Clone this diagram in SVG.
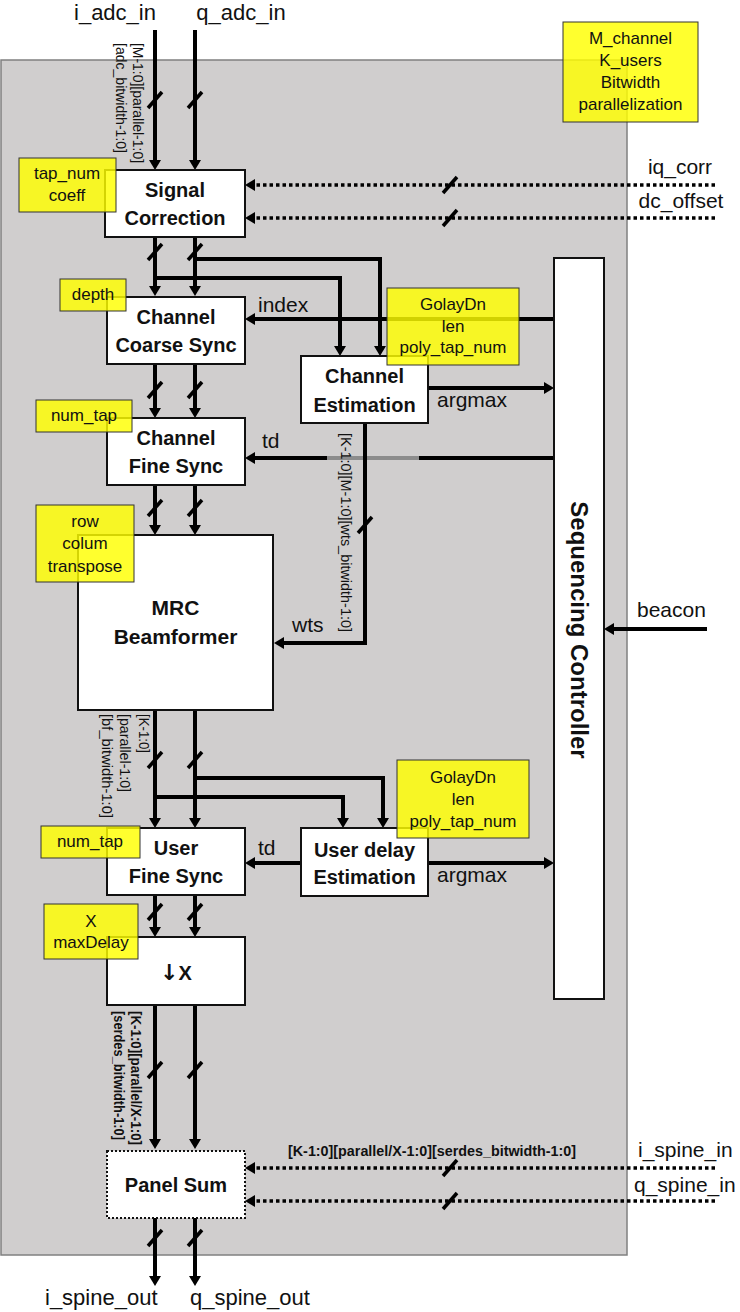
<svg xmlns="http://www.w3.org/2000/svg" xmlns:xlink="http://www.w3.org/1999/xlink" width="740" height="1312" viewBox="0 0 740 1312">
<style>
.lbl{font-family:"Liberation Sans",Arial,sans-serif;font-size:21px;fill:#111}
.big{font-size:22px}
.nt{font-family:"Liberation Sans",Arial,sans-serif;font-size:20px;font-weight:bold;fill:#111;text-anchor:middle}
.nt21{font-size:21px}
.sc{font-size:24px}
.yt{font-family:"Liberation Sans",Arial,sans-serif;font-size:17px;fill:#111;text-anchor:middle}
.vt{font-family:"Liberation Sans",Arial,sans-serif;font-size:14px;fill:#111}
.vb{font-family:"Liberation Sans",Arial,sans-serif;font-size:14px;font-weight:bold;fill:#111}
.box{fill:#fff;stroke:#111;stroke-width:2}
.note{fill:#ffff00;fill-opacity:0.82;stroke:#333;stroke-width:1}
.w{fill:none;stroke:#000;stroke-width:4}
.d{fill:none;stroke:#000;stroke-width:3.5;stroke-dasharray:3.5 3}
.sl{stroke:#000;stroke-width:3.5}
.arr{font-family:"DejaVu Sans",sans-serif;font-size:22px}
</style>
<defs>
<marker id="ah" viewBox="0 0 10 12" refX="1" refY="6" markerWidth="10" markerHeight="12" markerUnits="userSpaceOnUse" orient="auto">
<path d="M0,0 L10,6 L0,12 z" fill="#000"/>
</marker>
<path id="sl" class="sl" d="M-7,8 L7,-8"/>
</defs>
<rect x="1" y="60" width="626" height="1195" fill="#d0cece" stroke="#808080" stroke-width="1.5"/>

<g id="connectors">
<path class="w" d="M155,30 V161" marker-end="url(#ah)"/>
<path class="w" d="M195,30 V161" marker-end="url(#ah)"/>
<path class="d" d="M715,185 H254" marker-end="url(#ah)"/>
<path class="d" d="M715,218 H254" marker-end="url(#ah)"/>
<path class="w" d="M155,237 V287" marker-end="url(#ah)"/>
<path class="w" d="M195,237 V287" marker-end="url(#ah)"/>
<path class="w" d="M195,259 H380 V347" marker-end="url(#ah)"/>
<path class="w" d="M155,278 H340 V347" marker-end="url(#ah)"/>
<path class="w" d="M555,319 H254" marker-end="url(#ah)"/>
<path class="w" d="M155,364 V409" marker-end="url(#ah)"/>
<path class="w" d="M195,364 V409" marker-end="url(#ah)"/>
<path class="w" d="M428,388 H545" marker-end="url(#ah)"/>
<path class="w" d="M555,458 H419"/>
<path fill="none" stroke="#8c8c8c" stroke-width="4" d="M419,458 H327"/>
<path class="w" d="M327,458 H254" marker-end="url(#ah)"/>
<path class="w" d="M365,423 V643 H283" marker-end="url(#ah)"/>
<path class="w" d="M155,485 V526" marker-end="url(#ah)"/>
<path class="w" d="M195,485 V526" marker-end="url(#ah)"/>
<path class="w" d="M155,710 V819" marker-end="url(#ah)"/>
<path class="w" d="M195,710 V819" marker-end="url(#ah)"/>
<path class="w" d="M195,778 H383 V819" marker-end="url(#ah)"/>
<path class="w" d="M155,797 H343 V819" marker-end="url(#ah)"/>
<path class="w" d="M301,863 H254" marker-end="url(#ah)"/>
<path class="w" d="M428,863 H545" marker-end="url(#ah)"/>
<path class="w" d="M155,895 V928" marker-end="url(#ah)"/>
<path class="w" d="M195,895 V928" marker-end="url(#ah)"/>
<path class="w" d="M155,1005 V1140" marker-end="url(#ah)"/>
<path class="w" d="M195,1005 V1140" marker-end="url(#ah)"/>
<path class="d" d="M715,1168 H254" marker-end="url(#ah)"/>
<path class="d" d="M715,1201 H254" marker-end="url(#ah)"/>
<path class="w" d="M155,1218 V1277" marker-end="url(#ah)"/>
<path class="w" d="M195,1218 V1277" marker-end="url(#ah)"/>
<path class="w" d="M707,629 H613" marker-end="url(#ah)"/>
<use href="#sl" x="155" y="100"/><use href="#sl" x="195" y="100"/>
<use href="#sl" x="450" y="185"/><use href="#sl" x="450" y="218"/>
<use href="#sl" x="155" y="252"/><use href="#sl" x="195" y="252"/>
<use href="#sl" x="155" y="390"/><use href="#sl" x="195" y="390"/>
<use href="#sl" x="365" y="525"/>
<use href="#sl" x="155" y="508"/><use href="#sl" x="195" y="508"/>
<use href="#sl" x="155" y="760"/><use href="#sl" x="195" y="760"/>
<use href="#sl" x="155" y="912"/><use href="#sl" x="195" y="912"/>
<use href="#sl" x="155" y="1070"/><use href="#sl" x="195" y="1070"/>
<use href="#sl" x="450" y="1168"/><use href="#sl" x="450" y="1201"/>
<use href="#sl" x="155" y="1238"/><use href="#sl" x="195" y="1238"/>
</g>

<g id="labels">
<text class="lbl big" x="115" y="20" text-anchor="middle">i_adc_in</text>
<text class="lbl big" x="241" y="20" text-anchor="middle">q_adc_in</text>
<text class="lbl" x="680" y="174" text-anchor="middle">iq_corr</text>
<text class="lbl" x="681" y="208" text-anchor="middle">dc_offset</text>
<text class="lbl" x="258" y="312">index</text>
<text class="lbl" x="437" y="407">argmax</text>
<text class="lbl" x="262" y="448">td</text>
<text class="lbl" x="292" y="632">wts</text>
<text class="lbl" x="637" y="617">beacon</text>
<text class="lbl" x="258" y="855">td</text>
<text class="lbl" x="437" y="882">argmax</text>
<text class="lbl" x="638" y="1157">i_spine_in</text>
<text class="lbl" x="634" y="1192">q_spine_in</text>
<text class="lbl big" x="45" y="1305">i_spine_out</text>
<text class="lbl big" x="190" y="1305">q_spine_out</text>
<text class="vt" transform="translate(133,43) rotate(90)" textLength="120" lengthAdjust="spacingAndGlyphs">[M-1:0][parallel-1:0]</text>
<text class="vt" transform="translate(116,43) rotate(90)" textLength="110" lengthAdjust="spacingAndGlyphs">[adc_bitwidth-1:0]</text>
<text class="vt" transform="translate(341,433) rotate(90)" textLength="199" lengthAdjust="spacingAndGlyphs">[K-1:0][M-1:0][wts_bitwidth-1:0]</text>
<text class="vt" transform="translate(139,714) rotate(90)" textLength="39" lengthAdjust="spacingAndGlyphs">[K-1:0]</text>
<text class="vt" transform="translate(120,714) rotate(90)" textLength="78" lengthAdjust="spacingAndGlyphs">[parallel-1:0]</text>
<text class="vt" transform="translate(102,714) rotate(90)" textLength="104" lengthAdjust="spacingAndGlyphs">[bf_bitwidth-1:0]</text>
<text class="vb" transform="translate(131,1011) rotate(90)" textLength="134" lengthAdjust="spacingAndGlyphs">[K-1:0][parallel/X-1:0]</text>
<text class="vb" transform="translate(114,1011) rotate(90)" textLength="129" lengthAdjust="spacingAndGlyphs">[serdes_bitwidth-1:0]</text>
<text class="vb" x="288" y="1156" textLength="288" lengthAdjust="spacingAndGlyphs">[K-1:0][parallel/X-1:0][serdes_bitwidth-1:0]</text>
</g>

<g id="signal-correction">
<rect class="box" x="105" y="170" width="140" height="67"/>
<text class="nt" x="175" y="197">Signal</text>
<text class="nt" x="175" y="225">Correction</text>
</g>
<g id="channel-coarse-sync">
<rect class="box" x="107" y="297" width="138" height="67"/>
<text class="nt" x="176" y="324">Channel</text>
<text class="nt" x="176" y="352">Coarse Sync</text>
</g>
<g id="channel-estimation">
<rect class="box" x="301" y="356" width="127" height="67"/>
<text class="nt" x="364.5" y="383">Channel</text>
<text class="nt" x="364.5" y="412">Estimation</text>
</g>
<g id="channel-fine-sync">
<rect class="box" x="107" y="418" width="138" height="67"/>
<text class="nt" x="176" y="445">Channel</text>
<text class="nt" x="176" y="473">Fine Sync</text>
</g>
<g id="mrc-beamformer">
<rect class="box" x="78" y="535" width="195" height="175"/>
<text class="nt nt21" x="175.5" y="615">MRC</text>
<text class="nt nt21" x="175.5" y="644">Beamformer</text>
</g>
<g id="user-fine-sync">
<rect class="box" x="107" y="828" width="138" height="67"/>
<text class="nt" x="176" y="855">User</text>
<text class="nt" x="176" y="883">Fine Sync</text>
</g>
<g id="user-delay-estimation">
<rect class="box" x="301" y="828" width="127" height="68"/>
<text class="nt" x="364.5" y="857">User delay</text>
<text class="nt" x="364.5" y="884">Estimation</text>
</g>
<g id="downsample">
<rect class="box" x="107" y="937" width="138" height="68"/>
<text class="nt" x="176" y="980"><tspan class="arr">↓</tspan>X</text>
</g>
<g id="panel-sum">
<rect x="107" y="1151" width="138" height="67" fill="#fff" stroke="#111" stroke-width="2" stroke-dasharray="2 2"/>
<text class="nt" x="176" y="1192">Panel Sum</text>
</g>
<g id="sequencing-controller">
<rect class="box" x="554" y="258" width="50" height="741"/>
<text class="nt sc" transform="translate(571,630) rotate(90)">Sequencing Controller</text>
</g>

<g id="note-params">
<rect class="note" x="563" y="22" width="135" height="100"/>
<text class="yt" x="630.5" y="44">M_channel</text>
<text class="yt" x="630.5" y="66">K_users</text>
<text class="yt" x="630.5" y="88">Bitwidth</text>
<text class="yt" x="630.5" y="110">parallelization</text>
</g>
<g id="note-tapnum">
<rect class="note" x="19" y="158" width="97" height="54"/>
<text class="yt" x="67" y="179">tap_num</text>
<text class="yt" x="67" y="201">coeff</text>
</g>
<g id="note-depth">
<rect class="note" x="60" y="279" width="66" height="32"/>
<text class="yt" x="93" y="300">depth</text>
</g>
<g id="note-golay1">
<rect class="note" x="387" y="288" width="132" height="77"/>
<text class="yt" x="453" y="310">GolayDn</text>
<text class="yt" x="453" y="332">len</text>
<text class="yt" x="453" y="353">poly_tap_num</text>
</g>
<g id="note-numtap1">
<rect class="note" x="36" y="400" width="96" height="32"/>
<text class="yt" x="84" y="421">num_tap</text>
</g>
<g id="note-transpose">
<rect class="note" x="36" y="505" width="98" height="77"/>
<text class="yt" x="85" y="527">row</text>
<text class="yt" x="85" y="549">colum</text>
<text class="yt" x="85" y="572">transpose</text>
</g>
<g id="note-golay2">
<rect class="note" x="397" y="760" width="132" height="78"/>
<text class="yt" x="463" y="783">GolayDn</text>
<text class="yt" x="463" y="805">len</text>
<text class="yt" x="463" y="827">poly_tap_num</text>
</g>
<g id="note-numtap2">
<rect class="note" x="41" y="826" width="99" height="32"/>
<text class="yt" x="90" y="847">num_tap</text>
</g>
<g id="note-maxdelay">
<rect class="note" x="44" y="904" width="94" height="55"/>
<text class="yt" x="91" y="927">X</text>
<text class="yt" x="91" y="948">maxDelay</text>
</g>
</svg>
